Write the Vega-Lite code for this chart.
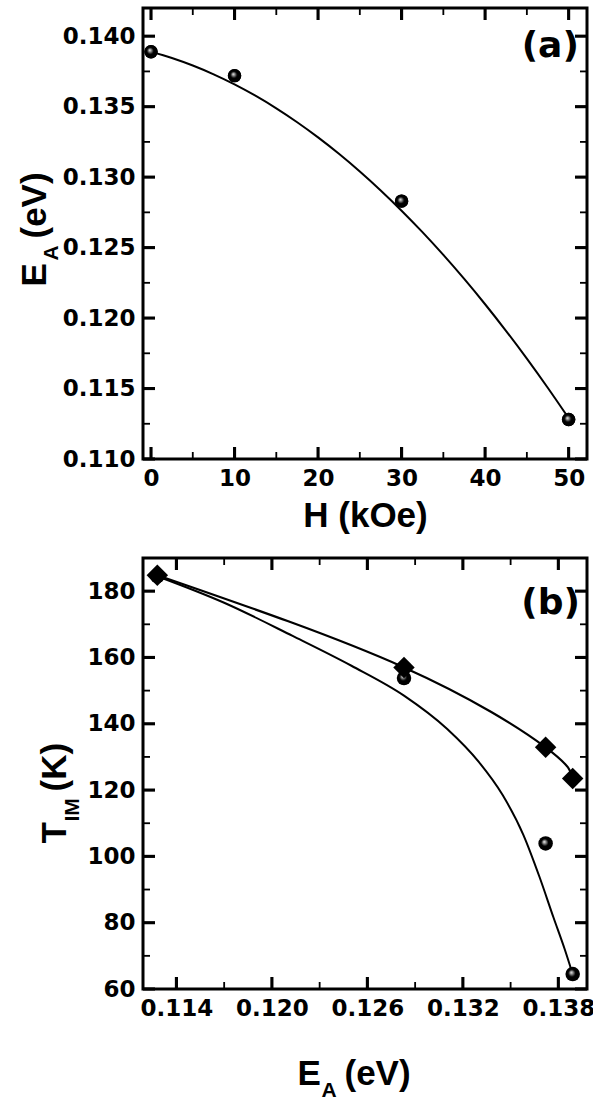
{
  "$schema": "https://vega.github.io/schema/vega-lite/v6.json",
  "autosize": {"type": "pad"},
  "padding": {"left": 15, "top": 6, "right": 0, "bottom": 0},
  "background": "white",
  "spacing": 99,
  "bounds": "flush",
  "datasets": {
    "fitA": [
      {"H": 0, "E": 0.1389}, {"H": 2.5, "E": 0.138455}, {"H": 5, "E": 0.13792}, {"H": 7.5, "E": 0.137295},
      {"H": 10, "E": 0.13658}, {"H": 12.5, "E": 0.135775}, {"H": 15, "E": 0.13488}, {"H": 17.5, "E": 0.133895},
      {"H": 20, "E": 0.13282}, {"H": 22.5, "E": 0.131655}, {"H": 25, "E": 0.1304}, {"H": 27.5, "E": 0.129055},
      {"H": 30, "E": 0.12762}, {"H": 32.5, "E": 0.126095}, {"H": 35, "E": 0.12448}, {"H": 37.5, "E": 0.122775},
      {"H": 40, "E": 0.12098}, {"H": 42.5, "E": 0.119095}, {"H": 45, "E": 0.11712}, {"H": 47.5, "E": 0.115055},
      {"H": 50, "E": 0.1129}
    ],
    "ptsA": [
      {"H": 0, "E": 0.1389}, {"H": 10, "E": 0.1372}, {"H": 30, "E": 0.1283}, {"H": 50, "E": 0.1128}
    ],
    "ptsB": [
      {"E": 0.1128, "T": 184.5, "series": "Cool"}, {"E": 0.1283, "T": 153.8, "series": "Cool"},
      {"E": 0.1372, "T": 103.9, "series": "Cool"}, {"E": 0.1389, "T": 64.5, "series": "Cool"},
      {"E": 0.1128, "T": 184.8, "series": "Warm"}, {"E": 0.1283, "T": 157.0, "series": "Warm"},
      {"E": 0.1372, "T": 132.9, "series": "Warm"}, {"E": 0.1389, "T": 123.5, "series": "Warm"}
    ],
    "fitCool": [
      {"E": 0.1128, "T": 184.5}, {"E": 0.1170, "T": 176.5}, {"E": 0.1213, "T": 166.5}, {"E": 0.1250, "T": 157.5},
      {"E": 0.1283, "T": 148.5}, {"E": 0.1310, "T": 138.5}, {"E": 0.1330, "T": 128.5}, {"E": 0.1345, "T": 118.5},
      {"E": 0.1358, "T": 106.5}, {"E": 0.1368, "T": 94.0}, {"E": 0.1377, "T": 81.5}, {"E": 0.1384, "T": 72.0},
      {"E": 0.1389, "T": 64.5}
    ],
    "tagA": [{"H": 47.8, "E": 0.13929, "label": "(a)"}],
    "tagB": [{"E": 0.13752, "T": 176.4, "label": "(b)"}],
    "ticksA": [
      {"H": 0, "E": 0.110, "side": "bottom", "kind": "major"}, {"H": 10, "E": 0.110, "side": "bottom", "kind": "major"},
      {"H": 20, "E": 0.110, "side": "bottom", "kind": "major"}, {"H": 30, "E": 0.110, "side": "bottom", "kind": "major"},
      {"H": 40, "E": 0.110, "side": "bottom", "kind": "major"}, {"H": 50, "E": 0.110, "side": "bottom", "kind": "major"},
      {"H": 5, "E": 0.110, "side": "bottom", "kind": "minor"}, {"H": 15, "E": 0.110, "side": "bottom", "kind": "minor"},
      {"H": 25, "E": 0.110, "side": "bottom", "kind": "minor"}, {"H": 35, "E": 0.110, "side": "bottom", "kind": "minor"},
      {"H": 45, "E": 0.110, "side": "bottom", "kind": "minor"},
      {"H": 0, "E": 0.142, "side": "top", "kind": "major"}, {"H": 10, "E": 0.142, "side": "top", "kind": "major"},
      {"H": 20, "E": 0.142, "side": "top", "kind": "major"}, {"H": 30, "E": 0.142, "side": "top", "kind": "major"},
      {"H": 40, "E": 0.142, "side": "top", "kind": "major"}, {"H": 50, "E": 0.142, "side": "top", "kind": "major"},
      {"H": 5, "E": 0.142, "side": "top", "kind": "minor"}, {"H": 15, "E": 0.142, "side": "top", "kind": "minor"},
      {"H": 25, "E": 0.142, "side": "top", "kind": "minor"}, {"H": 35, "E": 0.142, "side": "top", "kind": "minor"},
      {"H": 45, "E": 0.142, "side": "top", "kind": "minor"},
      {"H": -0.96, "E": 0.110, "side": "left", "kind": "major"}, {"H": -0.96, "E": 0.115, "side": "left", "kind": "major"},
      {"H": -0.96, "E": 0.120, "side": "left", "kind": "major"}, {"H": -0.96, "E": 0.125, "side": "left", "kind": "major"},
      {"H": -0.96, "E": 0.130, "side": "left", "kind": "major"}, {"H": -0.96, "E": 0.135, "side": "left", "kind": "major"},
      {"H": -0.96, "E": 0.140, "side": "left", "kind": "major"},
      {"H": -0.96, "E": 0.1125, "side": "left", "kind": "minor"}, {"H": -0.96, "E": 0.1175, "side": "left", "kind": "minor"},
      {"H": -0.96, "E": 0.1225, "side": "left", "kind": "minor"}, {"H": -0.96, "E": 0.1275, "side": "left", "kind": "minor"},
      {"H": -0.96, "E": 0.1325, "side": "left", "kind": "minor"}, {"H": -0.96, "E": 0.1375, "side": "left", "kind": "minor"},
      {"H": 52.2, "E": 0.110, "side": "right", "kind": "major"}, {"H": 52.2, "E": 0.115, "side": "right", "kind": "major"},
      {"H": 52.2, "E": 0.120, "side": "right", "kind": "major"}, {"H": 52.2, "E": 0.125, "side": "right", "kind": "major"},
      {"H": 52.2, "E": 0.130, "side": "right", "kind": "major"}, {"H": 52.2, "E": 0.135, "side": "right", "kind": "major"},
      {"H": 52.2, "E": 0.140, "side": "right", "kind": "major"},
      {"H": 52.2, "E": 0.1125, "side": "right", "kind": "minor"}, {"H": 52.2, "E": 0.1175, "side": "right", "kind": "minor"},
      {"H": 52.2, "E": 0.1225, "side": "right", "kind": "minor"}, {"H": 52.2, "E": 0.1275, "side": "right", "kind": "minor"},
      {"H": 52.2, "E": 0.1325, "side": "right", "kind": "minor"}, {"H": 52.2, "E": 0.1375, "side": "right", "kind": "minor"}
    ],
    "ticksB": [
      {"E": 0.114, "T": 60, "side": "bottom", "kind": "major"}, {"E": 0.120, "T": 60, "side": "bottom", "kind": "major"},
      {"E": 0.126, "T": 60, "side": "bottom", "kind": "major"}, {"E": 0.132, "T": 60, "side": "bottom", "kind": "major"},
      {"E": 0.138, "T": 60, "side": "bottom", "kind": "major"},
      {"E": 0.117, "T": 60, "side": "bottom", "kind": "minor"}, {"E": 0.123, "T": 60, "side": "bottom", "kind": "minor"},
      {"E": 0.129, "T": 60, "side": "bottom", "kind": "minor"}, {"E": 0.135, "T": 60, "side": "bottom", "kind": "minor"},
      {"E": 0.114, "T": 190, "side": "top", "kind": "major"}, {"E": 0.120, "T": 190, "side": "top", "kind": "major"},
      {"E": 0.126, "T": 190, "side": "top", "kind": "major"}, {"E": 0.132, "T": 190, "side": "top", "kind": "major"},
      {"E": 0.138, "T": 190, "side": "top", "kind": "major"},
      {"E": 0.117, "T": 190, "side": "top", "kind": "minor"}, {"E": 0.123, "T": 190, "side": "top", "kind": "minor"},
      {"E": 0.129, "T": 190, "side": "top", "kind": "minor"}, {"E": 0.135, "T": 190, "side": "top", "kind": "minor"},
      {"E": 0.1119, "T": 60, "side": "left", "kind": "major"}, {"E": 0.1119, "T": 80, "side": "left", "kind": "major"},
      {"E": 0.1119, "T": 100, "side": "left", "kind": "major"}, {"E": 0.1119, "T": 120, "side": "left", "kind": "major"},
      {"E": 0.1119, "T": 140, "side": "left", "kind": "major"}, {"E": 0.1119, "T": 160, "side": "left", "kind": "major"},
      {"E": 0.1119, "T": 180, "side": "left", "kind": "major"},
      {"E": 0.1119, "T": 70, "side": "left", "kind": "minor"}, {"E": 0.1119, "T": 90, "side": "left", "kind": "minor"},
      {"E": 0.1119, "T": 110, "side": "left", "kind": "minor"}, {"E": 0.1119, "T": 130, "side": "left", "kind": "minor"},
      {"E": 0.1119, "T": 150, "side": "left", "kind": "minor"}, {"E": 0.1119, "T": 170, "side": "left", "kind": "minor"},
      {"E": 0.1398, "T": 60, "side": "right", "kind": "major"}, {"E": 0.1398, "T": 80, "side": "right", "kind": "major"},
      {"E": 0.1398, "T": 100, "side": "right", "kind": "major"}, {"E": 0.1398, "T": 120, "side": "right", "kind": "major"},
      {"E": 0.1398, "T": 140, "side": "right", "kind": "major"}, {"E": 0.1398, "T": 160, "side": "right", "kind": "major"},
      {"E": 0.1398, "T": 180, "side": "right", "kind": "major"},
      {"E": 0.1398, "T": 70, "side": "right", "kind": "minor"}, {"E": 0.1398, "T": 90, "side": "right", "kind": "minor"},
      {"E": 0.1398, "T": 110, "side": "right", "kind": "minor"}, {"E": 0.1398, "T": 130, "side": "right", "kind": "minor"},
      {"E": 0.1398, "T": 150, "side": "right", "kind": "minor"}, {"E": 0.1398, "T": 170, "side": "right", "kind": "minor"}
    ]
  },
  "vconcat": [
    {
      "width": 444,
      "height": 451,
      "resolve": {"axis": {"x": "independent", "y": "independent"}},
      "layer": [
        {
          "data": {"name": "fitA"},
          "mark": {"type": "line", "color": "black", "strokeWidth": 2, "interpolate": "monotone"},
          "encoding": {
            "x": {
              "field": "H", "type": "quantitative",
              "scale": {"domain": [-0.96, 52.2], "nice": false},
              "axis": {
                "orient": "bottom", "values": [0, 10, 20, 30, 40, 50], "format": "d",
                "labelPadding": 8, "labelOverlap": false, "labelFlush": false,
                "title": "H (kOe)", "titleX": 222, "titleY": 67, "titleAlign": "center", "titleBaseline": "alphabetic"
              }
            },
            "y": {
              "field": "E", "type": "quantitative",
              "scale": {"domain": [0.110, 0.142], "nice": false},
              "axis": {
                "orient": "left", "values": [0.11, 0.115, 0.12, 0.125, 0.13, 0.135, 0.14], "format": ".3f",
                "labelPadding": 8, "labelOverlap": false, "labelFlush": false,
                "title": "E", "titleX": -98, "titleY": 278, "titleAngle": 270, "titleAlign": "left", "titleBaseline": "alphabetic"
              }
            }
          }
        },
        {
          "data": {"name": "ptsA"},
          "mark": {"type": "point", "filled": true, "opacity": 1, "size": 180, "strokeWidth": 0, "color": "black"},
          "encoding": {
            "x": {"field": "H", "type": "quantitative", "scale": {"domain": [-0.96, 52.2], "nice": false}, "axis": null},
            "y": {
              "field": "E", "type": "quantitative",
              "scale": {"domain": [0.110, 0.142], "nice": false},
              "axis": {
                "orient": "right", "labels": false,
                "title": "(eV)", "titleX": -542, "titleY": 230, "titleAngle": 270, "titleAlign": "left", "titleBaseline": "alphabetic"
              }
            }
          }
        },
        {
          "data": {"name": "ptsA"},
          "mark": {
            "type": "point", "filled": true, "opacity": 1, "size": 180, "strokeWidth": 0,
            "fill": {"gradient": "radial", "x1": 0.4, "y1": 0.38, "r1": 0, "x2": 0.5, "y2": 0.5, "r2": 0.5,
                     "stops": [{"offset": 0, "color": "#f4f4f4"}, {"offset": 0.22, "color": "#8a8a8a"}, {"offset": 0.5, "color": "#000000"}, {"offset": 1, "color": "#000000"}]}
          },
          "encoding": {
            "x": {"field": "H", "type": "quantitative", "scale": {"domain": [-0.96, 52.2], "nice": false}, "axis": null},
            "y": {
              "field": "E", "type": "quantitative",
              "scale": {"domain": [0.110, 0.142], "nice": false},
              "axis": {
                "orient": "left", "labels": false,
                "title": "A", "titleFontSize": 21, "titleX": -86, "titleY": 252, "titleAngle": 270, "titleAlign": "left", "titleBaseline": "alphabetic"
              }
            }
          }
        },
        {
          "data": {"name": "tagA"},
          "mark": {"type": "text", "font": "DejaVu Sans", "fontWeight": "bold", "fontSize": 36, "align": "center", "baseline": "middle", "color": "black"},
          "encoding": {
            "x": {"field": "H", "type": "quantitative", "scale": {"domain": [-0.96, 52.2], "nice": false}, "axis": null},
            "y": {"field": "E", "type": "quantitative", "scale": {"domain": [0.110, 0.142], "nice": false}, "axis": null},
            "text": {"field": "label"}
          }
        },
        {
          "data": {"name": "ticksA"},
          "mark": {"type": "point", "filled": true, "opacity": 1, "color": "black", "strokeWidth": 0},
          "encoding": {
            "x": {"field": "H", "type": "quantitative", "scale": {"domain": [-0.96, 52.2], "nice": false}, "axis": null},
            "y": {"field": "E", "type": "quantitative", "scale": {"domain": [0.110, 0.142], "nice": false}, "axis": null},
            "shape": {
              "field": "side", "type": "nominal", "legend": null,
              "scale": {
                "domain": ["bottom", "top", "left", "right"],
                "range": ["M-0.13,-1L0.13,-1L0.13,0L-0.13,0Z", "M-0.13,0L0.13,0L0.13,1L-0.13,1Z", "M0,-0.13L1,-0.13L1,0.13L0,0.13Z", "M-1,-0.13L0,-0.13L0,0.13L-1,0.13Z"]
              }
            },
            "size": {
              "field": "kind", "type": "nominal", "legend": null,
              "scale": {"domain": ["major", "minor"], "range": [576, 196]}
            }
          }
        }
      ]
    },
    {
      "width": 444,
      "height": 431,
      "resolve": {"axis": {"x": "independent", "y": "independent"}, "scale": {"shape": "independent", "size": "independent"}},
      "layer": [
        {
          "data": {"name": "fitCool"},
          "mark": {"type": "line", "color": "black", "strokeWidth": 2, "interpolate": "monotone"},
          "encoding": {
            "x": {
              "field": "E", "type": "quantitative",
              "scale": {"domain": [0.1119, 0.1398], "nice": false},
              "axis": {
                "orient": "bottom", "values": [0.114, 0.12, 0.126, 0.132, 0.138], "format": ".3f",
                "labelPadding": 8, "labelOverlap": false, "labelFlush": false,
                "title": "E", "titleX": 154, "titleY": 95, "titleAngle": 0, "titleAlign": "left", "titleBaseline": "alphabetic"
              }
            },
            "y": {
              "field": "T", "type": "quantitative",
              "scale": {"domain": [60, 190], "nice": false},
              "axis": {
                "orient": "left", "values": [60, 80, 100, 120, 140, 160, 180], "format": "d",
                "labelPadding": 8, "labelOverlap": false, "labelFlush": false,
                "title": "T", "titleX": -78, "titleY": 285, "titleAngle": 270, "titleAlign": "left", "titleBaseline": "alphabetic"
              }
            }
          }
        },
        {
          "data": {"name": "ptsB"},
          "transform": [{"filter": "datum.series === 'Warm'"}],
          "mark": {"type": "line", "color": "black", "strokeWidth": 2.2, "interpolate": "natural"},
          "encoding": {
            "x": {"field": "E", "type": "quantitative", "scale": {"domain": [0.1119, 0.1398], "nice": false}, "axis": null},
            "y": {
              "field": "T", "type": "quantitative",
              "scale": {"domain": [60, 190], "nice": false},
              "axis": {
                "orient": "right", "labels": false,
                "title": "(K)", "titleX": -522, "titleY": 233, "titleAngle": 270, "titleAlign": "left", "titleBaseline": "alphabetic"
              }
            }
          }
        },
        {
          "data": {"name": "ptsB"},
          "transform": [{"filter": "datum.series === 'Cool'"}],
          "mark": {
            "type": "point", "filled": true, "opacity": 1, "size": 210, "strokeWidth": 0,
            "fill": {"gradient": "radial", "x1": 0.4, "y1": 0.38, "r1": 0, "x2": 0.5, "y2": 0.5, "r2": 0.5,
                     "stops": [{"offset": 0, "color": "#f4f4f4"}, {"offset": 0.22, "color": "#8a8a8a"}, {"offset": 0.5, "color": "#000000"}, {"offset": 1, "color": "#000000"}]}
          },
          "encoding": {
            "x": {
              "field": "E", "type": "quantitative",
              "scale": {"domain": [0.1119, 0.1398], "nice": false},
              "axis": {
                "orient": "bottom", "labels": false,
                "title": "A", "titleFontSize": 21, "titleX": 178, "titleY": 107, "titleAngle": 0, "titleAlign": "left", "titleBaseline": "alphabetic"
              }
            },
            "y": {
              "field": "T", "type": "quantitative",
              "scale": {"domain": [60, 190], "nice": false},
              "axis": {
                "orient": "left", "labels": false,
                "title": "IM", "titleFontSize": 21, "titleX": -65, "titleY": 263, "titleAngle": 270, "titleAlign": "left", "titleBaseline": "alphabetic"
              }
            }
          }
        },
        {
          "data": {"name": "ptsB"},
          "transform": [{"filter": "datum.series === 'Warm'"}],
          "mark": {"type": "point", "shape": "diamond", "filled": true, "opacity": 1, "size": 460, "color": "black", "strokeWidth": 0},
          "encoding": {
            "x": {
              "field": "E", "type": "quantitative",
              "scale": {"domain": [0.1119, 0.1398], "nice": false},
              "axis": {
                "orient": "bottom", "labels": false,
                "title": "(eV)", "titleX": 201, "titleY": 95, "titleAngle": 0, "titleAlign": "left", "titleBaseline": "alphabetic"
              }
            },
            "y": {"field": "T", "type": "quantitative", "scale": {"domain": [60, 190], "nice": false}, "axis": null}
          }
        },
        {
          "data": {"name": "ptsB"},
          "transform": [{"filter": "datum.T < 0"}],
          "mark": {"type": "point", "filled": true, "opacity": 1, "size": 196, "color": "black"},
          "encoding": {
            "x": {"field": "E", "type": "quantitative", "scale": {"domain": [0.1119, 0.1398], "nice": false}, "axis": null},
            "y": {"field": "T", "type": "quantitative", "scale": {"domain": [60, 190], "nice": false}, "axis": null},
            "shape": {
              "field": "series", "type": "nominal",
              "scale": {
                "domain": ["Cool", "Warm"],
                "range": [
                  "M-4.9,-0.15L-0.9,-0.15L-0.9,0.15L-4.9,0.15ZM0.9,-0.15L4.9,-0.15L4.9,0.15L0.9,0.15ZM1,0A1,1,0,1,1,-1,0A1,1,0,1,1,1,0Z",
                  "M-4.9,-0.15L-1.4,-0.15L-1.4,0.15L-4.9,0.15ZM1.4,-0.15L4.9,-0.15L4.9,0.15L1.4,0.15ZM0,-1.55L1.55,0L0,1.55L-1.55,0Z"
                ]
              },
              "legend": {
                "orient": "none", "legendX": 57, "legendY": 738.5, "title": null, "padding": 0,
                "labelFont": "Liberation Sans", "labelFontSize": 25, "labelFontWeight": "normal", "labelColor": "black",
                "labelOffset": 32, "rowPadding": 7, "symbolSize": 196,
                "symbolFillColor": "black", "symbolStrokeColor": "black", "symbolStrokeWidth": 0, "symbolOpacity": 1
              }
            }
          }
        },
        {
          "data": {"name": "tagB"},
          "mark": {"type": "text", "font": "DejaVu Sans", "fontWeight": "bold", "fontSize": 36, "align": "center", "baseline": "middle", "color": "black"},
          "encoding": {
            "x": {"field": "E", "type": "quantitative", "scale": {"domain": [0.1119, 0.1398], "nice": false}, "axis": null},
            "y": {"field": "T", "type": "quantitative", "scale": {"domain": [60, 190], "nice": false}, "axis": null},
            "text": {"field": "label"}
          }
        },
        {
          "data": {"name": "ticksB"},
          "mark": {"type": "point", "filled": true, "opacity": 1, "color": "black", "strokeWidth": 0},
          "encoding": {
            "x": {"field": "E", "type": "quantitative", "scale": {"domain": [0.1119, 0.1398], "nice": false}, "axis": null},
            "y": {"field": "T", "type": "quantitative", "scale": {"domain": [60, 190], "nice": false}, "axis": null},
            "shape": {
              "field": "side", "type": "nominal", "legend": null,
              "scale": {
                "domain": ["bottom", "top", "left", "right"],
                "range": ["M-0.13,-1L0.13,-1L0.13,0L-0.13,0Z", "M-0.13,0L0.13,0L0.13,1L-0.13,1Z", "M0,-0.13L1,-0.13L1,0.13L0,0.13Z", "M-1,-0.13L0,-0.13L0,0.13L-1,0.13Z"]
              }
            },
            "size": {
              "field": "kind", "type": "nominal", "legend": null,
              "scale": {"domain": ["major", "minor"], "range": [576, 196]}
            }
          }
        }
      ]
    }
  ],
  "config": {
    "view": {"stroke": "black", "strokeWidth": 3},
    "axis": {
      "domain": false, "grid": false, "ticks": false,
      "labelColor": "black", "labelFont": "DejaVu Sans", "labelFontWeight": "bold", "labelFontSize": 23,
      "titleColor": "black", "titleFont": "Liberation Sans", "titleFontWeight": "bold", "titleFontSize": 35
    }
  }
}
